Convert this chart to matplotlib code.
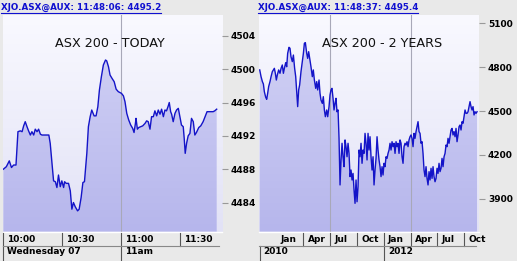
import numpy as np
import matplotlib
matplotlib.use("Agg")
import matplotlib.pyplot as plt
import matplotlib.transforms as mtransforms
from matplotlib.colors import LinearSegmentedColormap
from matplotlib.patches import Polygon
from matplotlib.lines import Line2D

# ---- today: minutes after 10:00 ----
today_min = [0, 1.5, 3.0, 4.1, 5.2, 6.4, 7.4, 8.6, 9.5, 10.3, 11.1, 12.0, 12.8, 13.7, 14.5,
             15.4, 16.2, 17.1, 17.9, 18.8, 19.6, 22.1, 23.1, 23.8, 24.7, 25.5, 26.4, 27.2,
             28.0, 28.9, 29.7, 30.6, 31.1, 31.9, 33.1, 34.0, 34.8, 35.6, 36.5, 37.7, 38.5,
             39.5, 40.4, 41.2, 42.4, 43.2, 44.1, 44.9, 46.1, 47.1, 48.0, 48.8, 49.8, 50.8,
             51.9, 52.5, 53.4, 54.2, 55.2, 56.3, 57.3, 58.4, 60.0, 61.0, 61.8, 62.7, 63.7,
             64.7, 65.7, 66.4, 67.1, 67.4, 68.1, 68.8, 69.8, 70.8, 72.0, 72.8, 73.6, 74.5,
             75.3, 76.2, 77.0, 77.9, 78.7, 79.6, 80.4, 81.3, 82.1, 82.9, 83.8, 84.3, 85.0,
             85.5, 86.3, 87.2, 88.0, 88.9, 89.7, 90.5, 91.4, 91.9, 92.4, 93.1, 93.9, 94.8,
             95.6, 96.5, 97.3, 98.1, 99.3, 100.3, 101.5, 102.5, 103.5, 104.6, 106.6, 107.4,
             108.4]
today_val = [4488.0, 4488.3, 4489.0, 4488.2, 4488.5, 4488.5, 4492.5, 4492.6, 4492.5, 4493.2,
             4493.7, 4493.1, 4492.6, 4492.1, 4492.5, 4492.1, 4492.8, 4492.5, 4492.8, 4492.2,
             4492.1, 4492.1, 4492.1, 4491.1, 4488.7, 4486.6, 4486.5, 4485.8, 4487.3, 4485.9,
             4486.6, 4485.8, 4486.5, 4486.3, 4486.3, 4485.4, 4483.2, 4484.0, 4483.5, 4483.0,
             4483.2, 4484.6, 4486.4, 4486.5, 4489.9, 4493.1, 4494.3, 4495.1, 4494.4, 4494.4,
             4495.5, 4497.5, 4499.1, 4500.5, 4501.1, 4501.0, 4500.3, 4499.3, 4498.9, 4498.5,
             4497.6, 4497.3, 4497.1, 4496.8, 4496.1, 4494.7, 4493.9, 4493.3, 4492.9, 4492.4,
             4493.5, 4494.1, 4492.8, 4493.0, 4493.1, 4493.2, 4493.5, 4493.8, 4493.7, 4492.8,
             4494.3, 4494.3, 4495.0, 4494.4, 4495.1, 4494.6, 4495.2, 4494.3, 4495.1, 4495.0,
             4495.6, 4496.0, 4494.9, 4494.6, 4493.7, 4494.7, 4495.1, 4495.3, 4494.3, 4493.3,
             4493.1, 4491.7, 4489.9, 4491.1, 4492.0, 4492.3, 4494.1, 4493.7, 4492.1, 4492.4,
             4493.0, 4493.2, 4493.7, 4494.3, 4494.9, 4494.9, 4494.9, 4495.0, 4495.2]
today_ticks = [0, 30, 60, 90]
today_tick_labels = ["10:00", "10:30", "11:00", "11:30"]
today_row2 = [0, 60]
today_row2_labels = ["Wednesday 07", "11am"]
today_yticks = [4484, 4488, 4492, 4496, 4500, 4504]
today_grid = [60]

# ---- 2 years: months after Jan 2011 ----
early_months = [-1.90, -1.75, -1.60, -1.49, -1.38, -1.23, -1.12, -1.01, -0.90, -0.75, -0.63,
                -0.49, -0.37, -0.26, -0.15, -0.04, 0.07, 0.22, 0.37, 0.49, 0.63, 0.75, 0.86,
                1.01, 1.12, 1.23, 1.38, 1.49, 1.60, 1.75, 1.87, 2.01, 2.13, 2.24, 2.35, 2.46,
                2.57, 2.72, 2.84, 2.99, 3.10, 3.21, 3.36, 3.47, 3.58, 3.73, 3.84, 3.99, 4.10,
                4.22, 4.37, 4.48, 4.59, 4.74, 4.85, 4.96, 5.11, 5.22, 5.34, 5.45, 5.60, 5.71,
                5.86, 5.97, 6.08, 6.19, 6.31, 6.42, 6.53, 6.64, 6.75, 6.87]
late_months = np.linspace(6.98, 22.43, 139)  # regular sampling from Jul 2011 on
two_yr_month = np.concatenate([early_months, late_months])
two_yr_val = [4781, 4735, 4701, 4685, 4632, 4594, 4580, 4621, 4667, 4701, 4735, 4769, 4781,
              4792, 4758, 4712, 4746, 4781, 4758, 4792, 4815, 4758, 4792, 4831, 4803, 4895,
              4936, 4929, 4872, 4838, 4883, 4792, 4735, 4632, 4530, 4644, 4678, 4769, 4826,
              4895, 4963, 4968, 4895, 4860, 4906, 4849, 4803, 4735, 4781, 4712, 4655, 4701,
              4644, 4712, 4621, 4575, 4552, 4598, 4507, 4461, 4507, 4461, 4530, 4610, 4644,
              4655, 4587, 4507, 4552, 4587, 4495, 4507,
              4313, 3994, 4165, 4279, 4187, 4119, 4302, 4256, 4187, 4279,
              4210, 4051, 4096, 4028, 4073, 3959, 3868, 4028, 3879, 3982,
              4233, 4187, 4279, 4142, 4233, 4210, 4347, 4279, 4165, 4347,
              4233, 4324, 4187, 4096, 4187, 3994, 4096, 4176, 4324, 4233,
              4165, 4119, 4051, 4119, 4062, 4142, 4119, 4187, 4176, 4210,
              4233, 4279, 4233, 4290, 4256, 4279, 4210, 4290, 4256, 4279,
              4210, 4302, 4279, 4187, 4142, 4256, 4279, 4267, 4290, 4256,
              4302, 4324, 4336, 4313, 4256, 4347, 4313, 4359, 4393, 4427,
              4359, 4347, 4279, 4290, 4210, 4096, 4051, 4119, 4039, 3994,
              4085, 4028, 4108, 4039, 4119, 4051, 4016, 4039, 4108, 4073,
              4142, 4085, 4108, 4176, 4119, 4187, 4210, 4267, 4256, 4313,
              4279, 4324, 4370, 4381, 4336, 4359, 4324, 4381, 4290, 4336,
              4393, 4404, 4370, 4427, 4416, 4461, 4507, 4484, 4484, 4495,
              4530, 4564, 4530, 4507, 4530, 4473, 4495, 4484, 4495]
two_yr_ticks = [0, 3, 6, 9, 12, 15, 18, 21]
two_yr_tick_labels = ["Jan", "Apr", "Jul", "Oct", "Jan", "Apr", "Jul", "Oct"]
two_yr_row2 = [-1.9, 12]
two_yr_row2_labels = ["2010", "2012"]
two_yr_yticks = [3900, 4200, 4500, 4800, 5100]
two_yr_grid = [6, 15]

W, H = 517, 261
BG = "#e9e9e9"
fig = plt.figure(figsize=(W / 100, H / 100), dpi=100, facecolor=BG)

bg_cmap = LinearSegmentedColormap.from_list("bg", ["#f9f9ff", "#e2e2f6"])
fill_cmap = LinearSegmentedColormap.from_list("fill", ["#d4d4f6", "#b6b6ec"])
grad = np.linspace(0, 1, 256).reshape(-1, 1)


def panel(x0, x1, x, y, xlim, ylim, yticks, grid, title, title_x, header, header_x,
          ticks, tick_labels, border_row1, row2, row2_labels):
    ax = fig.add_axes([x0 / W, (H - 231.7) / H, (x1 - x0) / W, (231.7 - 15) / H])
    ext = [xlim[0], xlim[1], ylim[0], ylim[1]]
    ax.imshow(grad, cmap=bg_cmap, aspect="auto", extent=ext, origin="upper", zorder=0)
    im = ax.imshow(grad, cmap=fill_cmap, aspect="auto", extent=ext, origin="upper", zorder=1)
    verts = [(x[0], ylim[0])] + list(zip(x, y)) + [(x[-1], ylim[0])]
    poly = Polygon(verts, closed=True, facecolor="none", edgecolor="none")
    ax.add_patch(poly)
    im.set_clip_path(poly)
    for g in grid:
        ax.axvline(g, color="#a8a8b8", lw=0.8, zorder=2)
    ax.plot(x, y, color="#1414c8", lw=1.0, zorder=3)
    ax.set_xlim(xlim)
    ax.set_ylim(ylim)
    ax.set_xticks([])
    ax.yaxis.tick_right()
    ax.set_yticks(yticks)
    ax.set_yticklabels([str(t) for t in yticks], fontsize=6.5, fontweight="bold")
    ax.tick_params(axis="y", length=4, width=0.8, color="#999999", pad=2.5)
    for s in ["top", "left", "right"]:
        ax.spines[s].set_visible(False)
    ax.spines["bottom"].set_color("white")
    ax.spines["bottom"].set_linewidth(1)
    ax.text(title_x, 0.868, title, transform=ax.transAxes, ha="center", va="center",
            fontsize=9.2, color="#111111")

    # header line above the panel
    t = fig.text(header_x / W, 1 - 7.5 / H, header, color="#1010d0", fontsize=6.3,
                 fontweight="bold", va="center", ha="left")
    fig.canvas.draw()
    bb = t.get_window_extent()
    fig.add_artist(Line2D([bb.x0 / W, bb.x1 / W], [1 - 12.5 / H, 1 - 12.5 / H],
                          transform=fig.transFigure, color="#1010d0", lw=0.8))

    # two-row time band under the panel
    tr = mtransforms.blended_transform_factory(ax.transData, fig.transFigure)
    tr_txt = mtransforms.offset_copy(tr, fig=fig, x=4, y=0, units="dots")
    y_top, y_mid, y_bot = 1 - 232.5 / H, 1 - 245.5 / H, 0.0
    sep = "#555555"
    for i, (tk, lab) in enumerate(zip(ticks, tick_labels)):
        if i > 0 or border_row1:
            fig.add_artist(Line2D([tk, tk], [y_mid, y_top], transform=tr, color=sep, lw=0.8))
        fig.text(tk, (y_top + y_mid) / 2, lab, transform=tr_txt, fontsize=6.5,
                 fontweight="bold", va="center", ha="left")
    for p, lab in zip(row2, row2_labels):
        fig.add_artist(Line2D([p, p], [y_bot, y_mid], transform=tr, color=sep, lw=0.8))
        fig.text(p, (y_mid + 1 - 261 / H) / 2 + 1.5 / H, lab, transform=tr_txt, fontsize=6.5,
                 fontweight="bold", va="center", ha="left")
    tr_ax = mtransforms.blended_transform_factory(ax.transAxes, fig.transFigure)
    fig.add_artist(Line2D([0, 0.986], [y_mid, y_mid], transform=tr_ax, color="#888888", lw=0.8))
    return ax


panel(3, 222, today_min, today_val, (-0.2, 111.1), (4480.5, 4506.5), today_yticks,
      today_grid, "ASX 200 - TODAY", 0.486, "XJO.ASX@AUX: 11:48:06: 4495.2", 1,
      today_ticks, today_tick_labels, True, today_row2, today_row2_labels)
panel(259, 479, two_yr_month, two_yr_val, (-1.98, 22.65), (3674, 5157), two_yr_yticks,
      two_yr_grid, "ASX 200 - 2 YEARS", 0.561, "XJO.ASX@AUX: 11:48:37: 4495.4", 258,
      two_yr_ticks, two_yr_tick_labels, False, two_yr_row2, two_yr_row2_labels)

fig.savefig("out.png", dpi=100, facecolor=BG)
